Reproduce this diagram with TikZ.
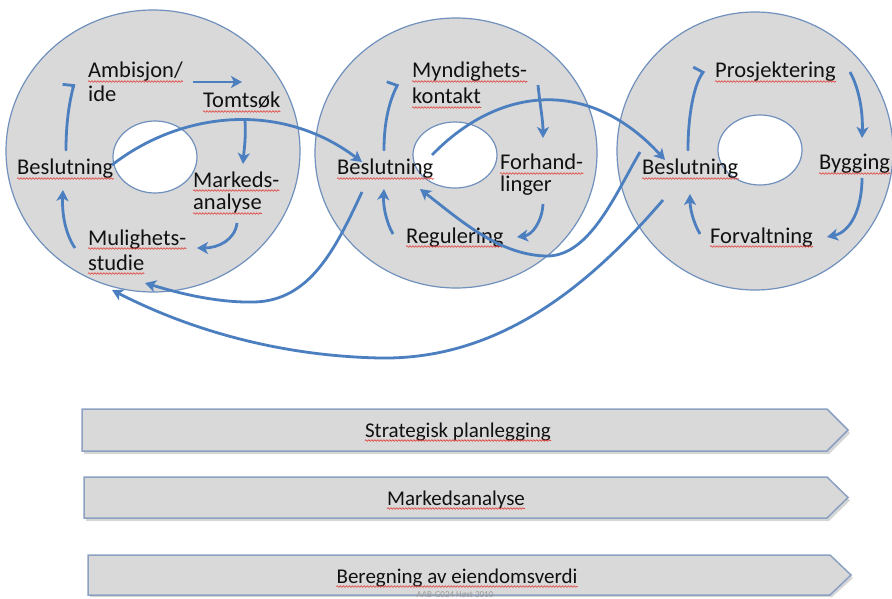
\documentclass[tikz,border=0pt]{standalone}
\usepackage{fontspec}
\setmainfont{Carlito}
\usetikzlibrary{arrows.meta,decorations.pathmorphing}
\definecolor{ringfill}{HTML}{D9D9D9}
\definecolor{ringline}{HTML}{7090BD}
\definecolor{flow}{HTML}{4C7FC0}
\definecolor{barline}{HTML}{8CA1C2}
\definecolor{ink}{HTML}{111111}
\definecolor{squig}{HTML}{E23B35}
\begin{document}
\begin{tikzpicture}[x=1pt,y=-1pt,
  ring/.style={fill=ringfill,draw=ringline,line width=1.2pt},
  hole/.style={fill=white,draw=ringline,line width=1.2pt},
  flowarrow/.style={draw=flow,line width=2.8pt,-{Stealth[length=11pt,width=12pt,inset=3pt]}},
  hookarrow/.style={draw=flow,line width=2.8pt,line cap=round,-{Straight Barb[harpoon,length=1.5pt,width=22pt]}},
  lbl/.style={anchor=base west,inner sep=0pt,text=ink,font=\fontsize{22.5}{27}\selectfont},
  barlbl/.style={anchor=base,inner sep=0pt,text=ink,font=\fontsize{21}{25}\selectfont},
  wavy/.style={draw=squig,line width=0.6pt,decorate,decoration={snake,amplitude=0.8pt,segment length=3pt}},
  phase/.style={fill=ringfill,draw=barline,line width=1.5pt},
  phaseshadow/.style={fill=black!35,opacity=0.45},
]
\useasboundingbox (0,0) rectangle (892,599);
\fill[white] (0,0) rectangle (892,599);

% three process rings
\draw[ring] (153,151) ellipse [x radius=147, y radius=141];
\draw[hole] (155,157) ellipse [x radius=42, y radius=36];
\draw[ring] (456,153) ellipse [x radius=141, y radius=135];
\draw[hole] (455,155) ellipse [x radius=42, y radius=33];
\draw[ring] (755,151) ellipse [x radius=138, y radius=139];
\draw[hole] (760,150) ellipse [x radius=42, y radius=35];

% ring 1 labels
\node[lbl] (amb) at (88,78) {Ambisjon/};
\node[lbl] (ide) at (88,102) {ide};
\node[lbl] (tomt) at (203,108) {Tomtsøk};
\node[lbl] (mark1) at (193,187) {Markeds-};
\node[lbl] (mark2) at (193,210) {analyse};
\node[lbl] (mul1) at (88,245) {Mulighets-};
\node[lbl] (mul2) at (88,270) {studie};
\node[lbl] (besA) at (17,175) {Beslutning};
% ring 2 labels
\node[lbl] (myn1) at (412,78) {Myndighets-};
\node[lbl] (myn2) at (412,104) {kontakt};
\node[lbl] (for1) at (500,170) {Forhand-};
\node[lbl] (for2) at (500,192) {linger};
\node[lbl] (reg) at (406,243) {Regulering};
\node[lbl] (besB) at (337,175) {Beslutning};
% ring 3 labels
\node[lbl] (pro) at (715,78) {Prosjektering};
\node[lbl] (byg) at (819,170) {Bygging};
\node[lbl] (forv) at (710,243) {Forvaltning};
\node[lbl] (besC) at (642,175) {Beslutning};

% spell-check underlines
\foreach \n in {amb,tomt,mark1,mark2,mul1,mul2,besA,myn1,myn2,for1,reg,besB,pro,byg,forv,besC}
  \draw[wavy] ([yshift=-3.5pt]\n.base west) -- ([yshift=-3.5pt]\n.base east);

% connector end points, ring 1
\coordinate (a1s) at (193,82);  \coordinate (a1e) at (242,82);
\coordinate (a2s) at (245,120); \coordinate (a2e) at (243,164);
\coordinate (a3s) at (237,223); \coordinate (a3e) at (197,248);
\coordinate (a4s) at (75,248);  \coordinate (a4e) at (63,190);
\coordinate (a5s) at (66,150);  \coordinate (a5e) at (74,84);
% ring 2
\coordinate (b1s) at (538,85);  \coordinate (b1e) at (543,138);
\coordinate (b2s) at (543,204); \coordinate (b2e) at (517,237);
\coordinate (b3s) at (393,234); \coordinate (b3e) at (384,189);
\coordinate (b5s) at (384,150); \coordinate (b5e) at (398,84);
% ring 3
\coordinate (c1s) at (850,72);  \coordinate (c1e) at (862,138);
\coordinate (c2s) at (862,178); \coordinate (c2e) at (827,237);
\coordinate (c3s) at (700,234); \coordinate (c3e) at (690,194);
\coordinate (c5s) at (688,150); \coordinate (c5e) at (704,71);
% links between the rings
\coordinate (xAout) at (112,165); \coordinate (xBin) at (362,162);
\coordinate (xBout) at (432,155); \coordinate (xCin) at (665,160);
\coordinate (xCback) at (640,152); \coordinate (xBback) at (420,189);
\coordinate (xBdown) at (362,192); \coordinate (xAstud) at (145,283);
\coordinate (xCdown) at (663,200); \coordinate (xAlow) at (112,290);

% ring 1 cycle
\draw[flowarrow] (a1s) -- (a1e);
\draw[flowarrow] (a2s) .. controls (246,140) and (244,150) .. (a2e);
\draw[flowarrow] (a3s) .. controls (235,240) and (218,248) .. (a3e);
\draw[flowarrow] (a4s) .. controls (64,232) and (62,210) .. (a4e);
\draw[hookarrow] (a5s) .. controls (66,120) and (70,100) .. (a5e);
% ring 2 cycle
\draw[flowarrow] (b1s) .. controls (540,105) and (543,120) .. (b1e);
\draw[flowarrow] (b2s) .. controls (542,222) and (532,235) .. (b2e);
\draw[flowarrow] (b3s) .. controls (386,222) and (383,205) .. (b3e);
\draw[hookarrow] (b5s) .. controls (384,120) and (390,100) .. (b5e);
% ring 3 cycle
\draw[flowarrow] (c1s) .. controls (860,90) and (863,115) .. (c1e);
\draw[flowarrow] (c2s) .. controls (862,210) and (850,232) .. (c2e);
\draw[flowarrow] (c3s) .. controls (693,222) and (690,208) .. (c3e);
\draw[hookarrow] (c5s) .. controls (688,115) and (694,85) .. (c5e);

% links between the rings
\draw[flowarrow] (xAout) .. controls (180,112) and (280,100) .. (xBin);
\draw[flowarrow] (xBout) .. controls (500,85) and (590,78) .. (xCin);
\draw[flowarrow] (xCback) .. controls (615,195) and (590,255) .. (548,256)
  .. controls (500,256) and (460,220) .. (xBback);
\draw[flowarrow] (xBdown) .. controls (335,250) and (310,300) .. (255,302)
  .. controls (215,303) and (175,292) .. (xAstud);
\draw[flowarrow] (xCdown) .. controls (590,285) and (500,360) .. (380,358)
  .. controls (280,356) and (190,330) .. (xAlow);

% phase bars
\fill[phaseshadow] (84,412) -- (829,412) -- (850,433) -- (829,454) -- (84,454) -- cycle;
\draw[phase] (82,409) -- (827,409) -- (848,430) -- (827,451) -- (82,451) -- cycle;
\fill[phaseshadow] (86,480) -- (829,480) -- (850,500.5) -- (829,521) -- (86,521) -- cycle;
\draw[phase] (84,477) -- (827,477) -- (848,497.5) -- (827,518) -- (84,518) -- cycle;
\fill[phaseshadow] (90,558) -- (832,558) -- (853,578) -- (832,597) -- (90,597) -- cycle;
\draw[phase] (88,555) -- (830,555) -- (851,575) -- (830,595) -- (88,595) -- cycle;

\node[barlbl] (bar1t) at (458,437) {Strategisk planlegging};
\node[barlbl] (bar2t) at (456,505) {Markedsanalyse};
\node[barlbl] (bar3t) at (457,583) {Beregning av eiendomsverdi};
\foreach \n in {bar1t,bar2t,bar3t}
  \draw[wavy] ([yshift=-3.5pt]\n.base west) -- ([yshift=-3.5pt]\n.base east);
\node[anchor=base,inner sep=0pt,text=black!40,font=\fontsize{9}{11}\selectfont] (foot) at (455,597.5) {AAB-G024 Høst 2010};
\end{tikzpicture}
\end{document}
